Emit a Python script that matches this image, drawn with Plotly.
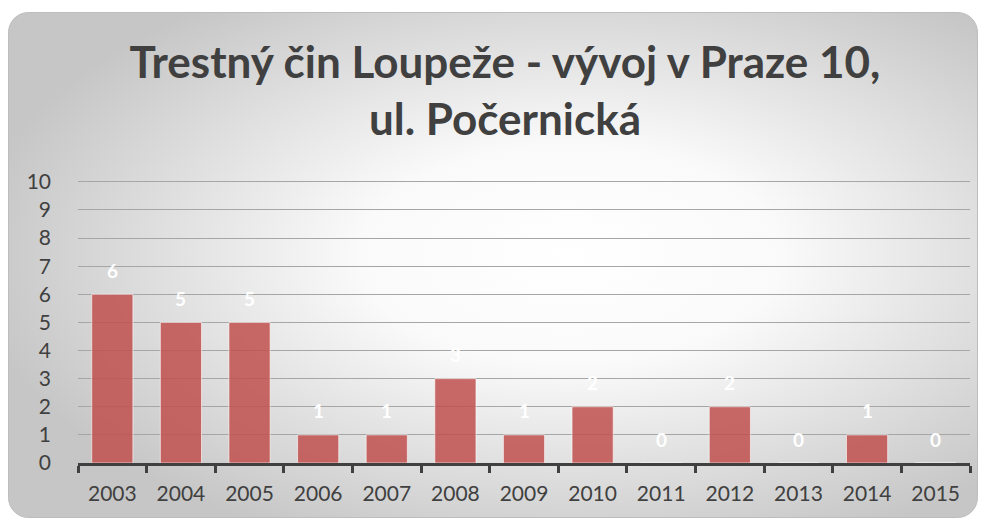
import base64

import plotly.graph_objects as go

# -- données ----------------------------------------------------------------
years = ["2003", "2004", "2005", "2006", "2007", "2008", "2009",
         "2010", "2011", "2012", "2013", "2014", "2015"]
counts = [6, 5, 5, 1, 1, 3, 1, 2, 0, 2, 0, 1, 0]
y_ticks = list(range(0, 11))

TITLE = "Trestný čin Loupeže - vývoj v Praze 10,<br>ul. Počernická"

W, H = 984, 520
M = {"l": 78, "r": 14, "t": 179, "b": 57}
TEXT = "#404040"
FONT = "Lato, 'Open Sans', sans-serif"


def _background_svg() -> str:
    """Rectangle arrondi avec dégradé radial blanc → gris (data URI)."""
    svg = (
        '<svg xmlns="http://www.w3.org/2000/svg" width="970" height="506" '
        'viewBox="0 0 970 506" preserveAspectRatio="none">'
        '<defs><radialGradient id="g" cx="58%" cy="48%" r="62%">'
        '<stop offset="0" stop-color="#ffffff"/>'
        '<stop offset="0.35" stop-color="#fafafa"/>'
        '<stop offset="1" stop-color="#c6c6c6"/>'
        '</radialGradient></defs>'
        '<rect x="0.5" y="0.5" width="969" height="505" rx="20" ry="20" '
        'fill="url(#g)" stroke="#bdbdbd" stroke-width="1"/></svg>'
    )
    return "data:image/svg+xml;base64," + base64.b64encode(svg.encode()).decode()


def _paper_x(px: float) -> float:
    return (px - M["l"]) / (W - M["l"] - M["r"])


def _paper_y(py: float) -> float:
    return (H - M["b"] - py) / (H - M["t"] - M["b"])


fig = go.Figure(
    go.Bar(
        x=years,
        y=counts,
        marker={"color": "rgba(192,80,77,0.85)",
                "line": {"color": "rgba(255,255,255,0.6)", "width": 1}},
        hovertemplate="%{x}: %{y}<extra></extra>",
    )
)

# étiquettes de valeurs (blanches, comme dans l'original)
# x = indice de catégorie : une chaîne "2003" serait lue comme un indice
for i, v in enumerate(counts):
    fig.add_annotation(
        x=i, y=v, yshift=24, text=str(v), showarrow=False,
        font={"color": "white", "size": 19, "family": FONT, "weight": "bold"},
    )

# fond arrondi en dégradé
fig.add_layout_image(
    source=_background_svg(),
    xref="paper", yref="paper",
    x=_paper_x(8), y=_paper_y(12),
    sizex=_paper_x(978) - _paper_x(8),
    sizey=_paper_y(12) - _paper_y(518),
    xanchor="left", yanchor="top",
    sizing="stretch", layer="below",
)

fig.update_layout(
    width=W, height=H,
    margin=M,
    paper_bgcolor="white",
    plot_bgcolor="rgba(0,0,0,0)",
    showlegend=False,
    bargap=0.4,
    font={"family": FONT, "color": TEXT, "size": 21},
    title={
        "text": TITLE,
        "x": 505 / W, "xanchor": "center",
        "y": 1 - 78 / H, "yanchor": "middle",
        "font": {"size": 44, "color": TEXT, "family": FONT, "weight": "bold"},
    },
)
fig.update_xaxes(
    type="category",
    range=[-0.5, len(years) - 0.5],
    showline=True, linecolor=TEXT, linewidth=3,
    ticks="outside", tickson="boundaries",
    ticklen=7, tickwidth=3, tickcolor=TEXT,
    ticklabelstandoff=10,
    showgrid=False,
    tickfont={"size": 21, "color": TEXT},
)
fig.update_yaxes(
    range=[0, 10.1],
    tickvals=y_ticks,
    showline=False, ticks="",
    showgrid=True, gridcolor="#a6a6a6", gridwidth=1,
    zeroline=False,
    ticklabelstandoff=26,
    tickfont={"size": 21, "color": TEXT},
)

# la page a une marge de 8 px par défaut : on la retire
fig.write_html("out.html", config={"displayModeBar": False},
               post_script="document.body.style.margin='0';")
